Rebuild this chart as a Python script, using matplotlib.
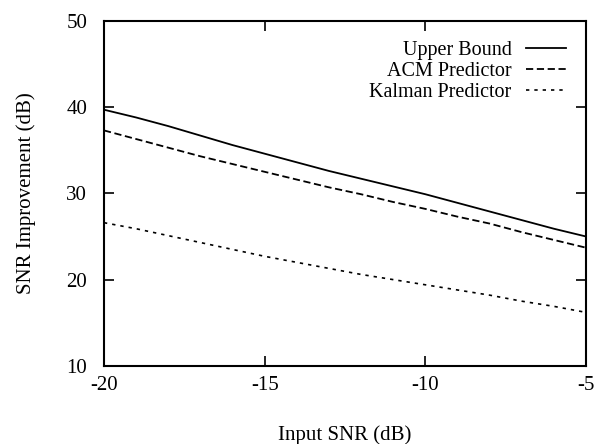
import matplotlib
matplotlib.use("Agg")
import matplotlib.pyplot as plt

# input SNR (dB)
snr_in = [-20, -19, -18, -17, -16, -15, -14, -13, -12, -11, -10, -9, -8, -7, -6, -5]

# SNR improvement (dB)
upper_bound = [39.7, 38.8, 37.8, 36.7, 35.6, 34.6, 33.6, 32.6,
               31.7, 30.8, 29.9, 28.9, 27.9, 26.9, 25.9, 25.0]
acm_pred = [37.3, 36.3, 35.3, 34.3, 33.4, 32.5, 31.6, 30.7,
            29.9, 29.0, 28.2, 27.3, 26.5, 25.5, 24.6, 23.7]
kalman_pred = [26.6, 25.9, 25.1, 24.3, 23.5, 22.7, 22.0, 21.3,
               20.6, 20.0, 19.4, 18.8, 18.2, 17.5, 16.9, 16.2]

x_ticks = [-20, -15, -10, -5]
y_ticks = [10, 20, 30, 40, 50]

plt.rcParams["font.family"] = ["Liberation Serif", "DejaVu Serif"]
plt.rcParams["font.size"] = 14

fig = plt.figure(figsize=(5.94, 4.44), dpi=100)
ax = fig.add_axes([0.175, 0.176, 0.8115, 0.777])

ax.plot(snr_in, upper_bound, color="black", lw=1.3, ls="-", label="Upper Bound")
ax.plot(snr_in, acm_pred, color="black", lw=1.3, ls=(0, (4, 2)), label="ACM Predictor")
ax.plot(snr_in, kalman_pred, color="black", lw=1.2, ls=(0, (2, 3)), label="Kalman Predictor")

ax.set_xlim(-20, -5)
ax.set_ylim(10, 50)
ax.set_xticks(x_ticks)
ax.set_xticklabels([str(v) for v in x_ticks])
ax.set_yticks(y_ticks)
ax.tick_params(direction="in", top=True, right=True, length=7, width=1.2,
               labelsize=15)
ax.tick_params(axis="x", pad=7)
ax.tick_params(axis="y", pad=12)
for sp in ax.spines.values():
    sp.set_linewidth(1.5)

ax.set_xlabel("Input SNR (dB)", labelpad=22, fontsize=15)
ax.set_ylabel("SNR Improvement (dB)", labelpad=22, fontsize=15)

ax.legend(loc="upper right", frameon=False, markerfirst=False,
          borderpad=0, borderaxespad=1.0, labelspacing=0.1,
          handlelength=2.0, handletextpad=0.7, fontsize=14.5)

fig.savefig("out.png", dpi=100)
